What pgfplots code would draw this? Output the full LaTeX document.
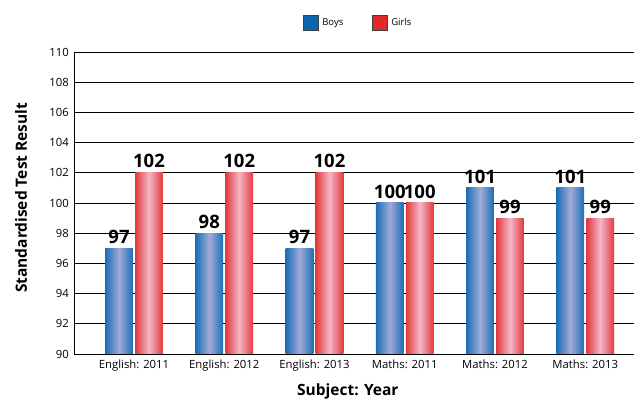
\documentclass[border=0pt]{standalone}
\usepackage{pgfplots}
\pgfplotsset{compat=1.18}
\usepackage{fontspec}
\setmainfont{Open Sans}

\definecolor{boysedge}{HTML}{1A6EB6}
\definecolor{boysmid}{HTML}{A2AAD8}
\definecolor{boysfill}{HTML}{0A64B0}
\definecolor{girlsedge}{HTML}{E23A3A}
\definecolor{girlsmid}{HTML}{F4B6CA}
\definecolor{girlsfill}{HTML}{E02A2A}

% each bar is its own plot so that its shading spans only that bar
\pgfplotsset{
  boys/.style={ybar, forget plot, bar shift=-0.166, draw=none,
    left color=boysedge, right color=boysedge, middle color=boysmid},
  girls/.style={ybar, forget plot, bar shift=0.166, draw=none,
    left color=girlsedge, right color=girlsedge, middle color=girlsmid},
}

\begin{document}
\begin{tikzpicture}
\path[use as bounding box] (0,0) rectangle (634pt,403pt);
\begin{axis}[
  at={(74pt,49pt)}, anchor=south west,
  width=560pt, height=302pt, scale only axis,
  xmin=-0.665, xmax=5.54,
  ymin=90, ymax=110,
  ytick={90,92,...,110},
  xtick={0,...,5},
  xticklabels={English: 2011, English: 2012, English: 2013, Maths: 2011, Maths: 2012, Maths: 2013},
  major tick length=0pt,
  axis x line*=bottom, axis y line*=left,
  axis line style={black, line width=0.9pt, -},
  ymajorgrids,
  grid style={black, line width=0.8pt},
  /pgf/number format/assume math mode=true,
  ticklabel style={font=\fontsize{11.3}{12}\selectfont, inner sep=0pt},
  yticklabel style={xshift=-5pt},
  xticklabel style={anchor=north, yshift=-5.5pt},
  every axis y label/.style={at={(axis description cs:-0.0946,0.517)}, rotate=90, anchor=center},
  every axis x label/.style={at={(axis description cs:0.489,0)}, anchor=north, yshift=-30pt, inner sep=0pt},
  label style={font=\fontsize{15.5}{16}\selectfont\bfseries},
  ylabel={Standardised Test Result},
  xlabel={Subject: Year},
  ybar=0pt, bar shift auto=false,
  bar width=0.307,
  nodes near coords,
  nodes near coords style={font=\fontsize{18.5}{19}\selectfont\bfseries, anchor=south, inner sep=0pt, yshift=4.5pt},
  legend columns=2,
  legend style={draw=none, fill=none, at={(axis description cs:0.4084,1.0965)}, anchor=west,
    font=\fontsize{9.5}{10}\selectfont, inner sep=0pt, outer sep=0pt,
    nodes={inner xsep=3.4pt, inner ysep=0pt},
    /tikz/every even column/.append style={column sep=25pt}},
  legend cell align=left,
  legend image code/.code={\draw[#1, draw=black!75, line width=0.6pt] (0pt,-7.8pt) rectangle (15.6pt,7.8pt);},
]
% Boys
\addplot[boys] coordinates {(0,97)};
\addplot[boys] coordinates {(1,98)};
\addplot[boys] coordinates {(2,97)};
\addplot[boys] coordinates {(3,100)};
\addplot[boys] coordinates {(4,101)};
\addplot[boys] coordinates {(5,101)};
% Girls
\addplot[girls] coordinates {(0,102)};
\addplot[girls] coordinates {(1,102)};
\addplot[girls] coordinates {(2,102)};
\addplot[girls] coordinates {(3,100)};
\addplot[girls] coordinates {(4,99)};
\addplot[girls] coordinates {(5,99)};
\addlegendimage{fill=boysfill}
\addlegendentry{Boys}
\addlegendimage{fill=girlsfill}
\addlegendentry{Girls}
\end{axis}
\end{tikzpicture}
\end{document}
